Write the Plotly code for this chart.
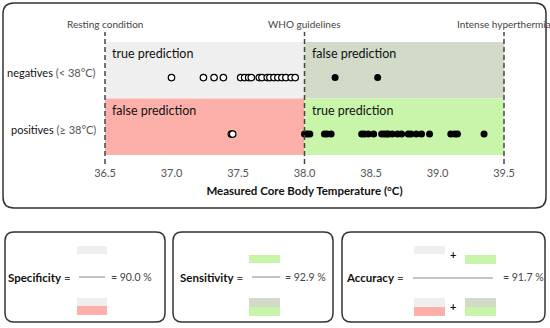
import plotly.graph_objects as go

# ---------------- data ----------------
ticks = [36.5, 37.0, 37.5, 38.0, 38.5, 39.0, 39.5]
tick_labels = ["36.5", "37.0", "37.5", "38.0", "38.5", "39.0", "39.5"]
ref_lines = [36.5, 38.0, 39.5]
ref_labels = ["Resting condition", "WHO guidelines", "Intense hyperthermia"]
threshold = 38.0
row_labels = ["positives (≥ 38°C)", "negatives (< 38°C)"]

# negatives (true core temp < 38 °C): measured temperature
neg_true = [37.0, 37.24, 37.32, 37.39, 37.52, 37.55, 37.58, 37.60, 37.66, 37.68,
            37.72, 37.74, 37.77, 37.80, 37.83, 37.86, 37.90, 37.93]
neg_false = [38.23, 38.55]
# positives (true core temp >= 38 °C)
pos_false = [37.45, 37.46]
pos_true = [38.0, 38.02, 38.04, 38.15, 38.17, 38.2, 38.43, 38.45, 38.48, 38.52,
            38.58, 38.6, 38.62, 38.63, 38.66, 38.7, 38.73, 38.78, 38.8, 38.84,
            38.88, 38.94, 39.1, 39.13, 39.15, 39.35]
metrics = {"Specificity": 90.0, "Sensitivity": 92.9, "Accuracy": 91.7}

# ---------------- style ----------------
C_GREY = "#efefef"
C_GG = "#d2dbc8"
C_SALMON = "#fdb0aa"
C_GREEN = "#c9f5ab"
FONT = "Lato"
W, H = 550, 328


def X(px):
    return px / W


def Y(py):
    return 1 - py / H


fig = go.Figure()

NEG_Y, POS_Y = 1, 0
fig.add_trace(go.Scatter(x=neg_true, y=[NEG_Y] * len(neg_true), mode="markers",
                         marker=dict(size=6.5, color="white", line=dict(color="black", width=1.2)),
                         hoverinfo="x", showlegend=False))
fig.add_trace(go.Scatter(x=neg_false, y=[NEG_Y] * len(neg_false), mode="markers",
                         marker=dict(size=7, color="black"), hoverinfo="x", showlegend=False))
fig.add_trace(go.Scatter(x=pos_false, y=[POS_Y] * len(pos_false), mode="markers",
                         marker=dict(size=6.5, color="white", line=dict(color="black", width=1.2)),
                         hoverinfo="x", showlegend=False))
fig.add_trace(go.Scatter(x=pos_true, y=[POS_Y] * len(pos_true), mode="markers",
                         marker=dict(size=7, color="black"), hoverinfo="x", showlegend=False))

shapes = []
ylo, ymid, yhi = -0.37, 0.63, 1.63
xmin, xmax = ref_lines[0], ref_lines[-1]
# quadrant bands
for x0, x1, y0, y1, c in [(xmin, threshold, ymid, yhi, C_GREY),
                          (threshold, xmax, ymid, yhi, C_GG),
                          (xmin, threshold, ylo, ymid, C_SALMON),
                          (threshold, xmax, ylo, ymid, C_GREEN)]:
    shapes.append(dict(type="rect", xref="x", yref="y", x0=x0, x1=x1, y0=y0, y1=y1,
                       fillcolor=c, line=dict(width=0), layer="below"))
# dashed reference lines
for xv in ref_lines:
    shapes.append(dict(type="line", xref="x", yref="paper", x0=xv, x1=xv,
                       y0=Y(164), y1=Y(32), line=dict(color="#444", width=1.5, dash="5px,3px"),
                       layer="above"))


def rrect(x0, y0, x1, y1, r):
    rx, ry = r / W, r / H
    a, b, c, d = X(x0), Y(y0), X(x1), Y(y1)
    return (f"M {a+rx},{b} L {c-rx},{b} Q {c},{b} {c},{b-ry} L {c},{d+ry} Q {c},{d} {c-rx},{d} "
            f"L {a+rx},{d} Q {a},{d} {a},{d+ry} L {a},{b-ry} Q {a},{b} {a+rx},{b} Z")


for bx in [(3, 3, 546, 208, 11), (5, 232, 165, 322, 9), (173, 232, 333, 322, 9), (342, 232, 545, 322, 9)]:
    shapes.append(dict(type="path", xref="paper", yref="paper", path=rrect(*bx),
                       line=dict(color="#333", width=1.5)))


def box(x0, y0, x1, y1, c):
    shapes.append(dict(type="rect", xref="paper", yref="paper", x0=X(x0), x1=X(x1),
                       y0=Y(y1), y1=Y(y0), fillcolor=c, line=dict(width=0)))


def hline(x0, x1, y):
    shapes.append(dict(type="line", xref="paper", yref="paper", x0=X(x0), x1=X(x1),
                       y0=Y(y), y1=Y(y), line=dict(color="#888", width=1)))


ann = []


def txt(x, y, s, size=11, color="#333", xanchor="center"):
    ann.append(dict(xref="paper", yref="paper", x=X(x), y=Y(y), text=s, showarrow=False,
                    xanchor=xanchor, yanchor="middle", font=dict(family=FONT, size=size, color=color)))


EQ = "<span style='color:#444;font-weight:normal'> =</span>"
# specificity box
box(77, 246, 107, 254, C_GREY)
hline(79, 105, 277)
box(77, 298, 107, 306, C_GREY)
box(77, 306, 107, 315, C_SALMON)
txt(73, 277, "<b>Specificity</b>" + EQ, 11.5, "#111", "right")
txt(109, 277, f"= {metrics['Specificity']:.1f} %", 10.5, "#444", "left")
# sensitivity box
box(249, 255, 280, 263, C_GREEN)
hline(252, 280, 277)
box(249, 298, 280, 307, C_GG)
box(249, 307, 280, 316, C_GREEN)
txt(245, 277, "<b>Sensitivity</b>" + EQ, 11.5, "#111", "right")
txt(283, 277, f"= {metrics['Sensitivity']:.1f} %", 10.5, "#444", "left")
# accuracy box
box(414, 246, 445, 254, C_GREY)
box(465, 255, 496, 264, C_GREEN)
hline(413, 493, 278)
box(414, 298, 445, 307, C_GREY)
box(414, 307, 445, 316, C_SALMON)
box(465, 298, 496, 307, C_GG)
box(465, 307, 496, 316, C_GREEN)
txt(453, 254, "<b>+</b>", 11, "#111")
txt(453, 306, "<b>+</b>", 11, "#111")
txt(406, 277, "<b>Accuracy</b>" + EQ, 11.5, "#111", "right")
txt(501, 277, f"= {metrics['Accuracy']:.1f} %", 10.5, "#444", "left")

# top reference labels
for xv, lab in zip(ref_lines, ref_labels):
    ann.append(dict(xref="x", yref="paper", x=xv, y=Y(24), text=lab, showarrow=False,
                    xanchor="center", yanchor="middle", font=dict(family=FONT, size=10, color="#444")))
# quadrant labels
for xv, yv, lab in [(xmin, yhi, "true prediction"), (threshold, yhi, "false prediction"),
                    (xmin, ymid, "false prediction"), (threshold, ymid, "true prediction")]:
    ann.append(dict(xref="x", yref="y", x=xv, y=yv, text=lab, showarrow=False, xanchor="left",
                    yanchor="top", xshift=5, yshift=-2, font=dict(family=FONT, size=12.5, color="#111")))
# row labels
for yv, lab in zip([POS_Y, NEG_Y], row_labels):
    name, rest = lab.split(" ", 1)
    ann.append(dict(xref="x", yref="y", x=xmin, y=yv, yshift=5, xshift=-7,
                    text=f"{name} <span style='color:#555'>{rest}</span>", showarrow=False,
                    xanchor="right", yanchor="middle", font=dict(family=FONT, size=11, color="#111")))

pad = 0.05
pxdeg = (504 - 105) / (xmax - xmin)
fig.update_layout(
    width=W, height=H, margin=dict(l=0, r=0, t=0, b=0),
    paper_bgcolor="white", plot_bgcolor="rgba(0,0,0,0)",
    font=dict(family=FONT),
    xaxis=dict(domain=[X(105 - pad * pxdeg), X(504 + pad * pxdeg)], range=[xmin - pad, xmax + pad],
               tickvals=ticks, ticktext=tick_labels, showgrid=False, zeroline=False, showline=False,
               ticks="outside", ticklen=8, tickcolor="rgba(0,0,0,0)", automargin=False,
               tickfont=dict(family=FONT, size=11, color="#555"),
               title=dict(text="<b>Measured Core Body Temperature (°C)</b>", standoff=8,
                          font=dict(family=FONT, size=11.5, color="#111")),
               fixedrange=True),
    yaxis=dict(domain=[Y(155), Y(42)], range=[ylo, yhi], visible=False, fixedrange=True,
               automargin=False),
    shapes=shapes, annotations=ann,
)

fig.write_html("out.html", config={"displayModeBar": False},
               post_script="document.body.style.margin='0px';document.body.style.overflow='hidden';")
